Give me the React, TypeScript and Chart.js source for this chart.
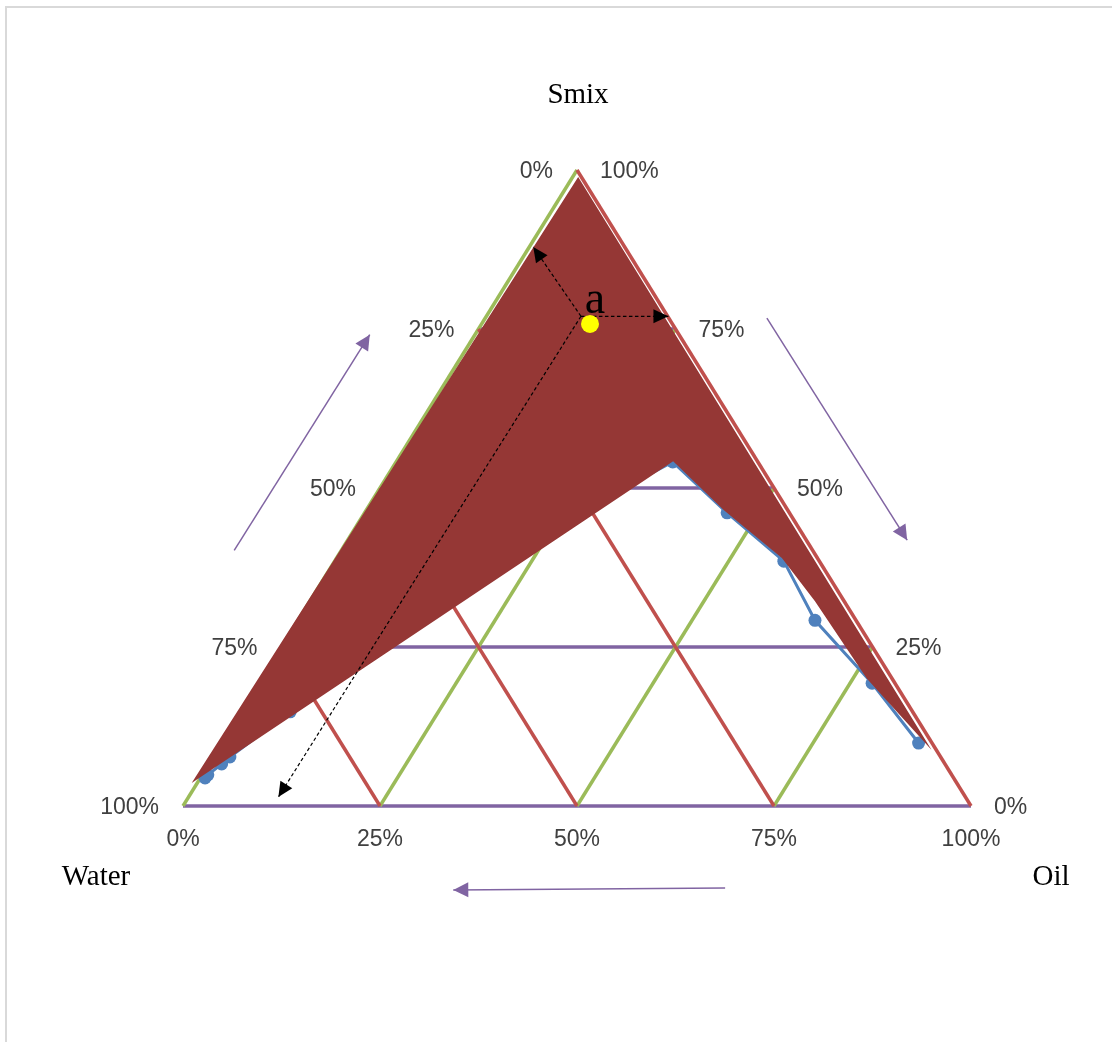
import React, { useEffect, useRef } from "react";
import { Chart, registerables } from "chart.js";

Chart.register(...registerables);

// ---------- data ----------
const TICKS = [0, 25, 50, 75, 100];
const TICK_LABELS = ["0%", "25%", "50%", "75%", "100%"];
const GRID_LEVELS = [0, 25, 50, 75];
const AXIS_NAMES = ["Smix", "Water", "Oil"];

// phase boundary (blue points), % Oil and % Smix
const BOUNDARY_OIL = [0.6, 0.7, 1.6, 2.1, 6.2, 14.8, 25.5, 35.1, 46.0, 57.0, 65.6, 77.8, 88.4];
const BOUNDARY_SMIX = [4.4, 4.9, 6.6, 7.7, 14.8, 30.5, 44.7, 54.1, 46.1, 38.5, 29.2, 19.3, 9.9];

// shaded region: upper edge (Water tip -> Smix apex -> Oil tip) and lower edge
const REGION_UPPER_OIL = [-0.7, 0.7, 90.6];
const REGION_UPPER_SMIX = [3.6, 98.9, 8.8];
const REGION_LOWER_OIL = [-0.7, 35.1, 45.4, 56.5, 64.1, 76.8, 90.6];
const REGION_LOWER_SMIX = [3.6, 54.2, 46.5, 39.0, 32.2, 20.0, 8.8];

// formulation point "a"
const POINT_A_OIL = [13.75];
const POINT_A_SMIX = [75.8];
const POINT_A_LABEL = "a";

// reading lines from point a to the three axes
const READ_ORIGIN_OIL = 12.0;
const READ_ORIGIN_SMIX = 77.0;
const READ_END_OIL = [0.5, 23.1, 11.4];
const READ_END_SMIX = [87.9, 77.0, 1.4];

// direction arrows (plot units: fraction of base width / height)
const DIR_X1 = [0.065, 0.741, 0.688];
const DIR_Y1 = [0.402, 0.767, -0.129];
const DIR_X2 = [0.237, 0.919, 0.343];
const DIR_Y2 = [0.741, 0.418, -0.132];

// ---------- helpers ----------
const tern = (oil: number, smix: number) => ({ x: (oil + smix / 2) / 100, y: smix / 100 });

const PURPLE = "#8064A2";
const GREEN = "#9BBB59";
const RED = "#C0504D";
const BLUE = "#4F81BD";
const BROWN = "#953735";

const arrowPlugin = {
  id: "arrowHeads",
  afterDatasetsDraw(chart: any) {
    const ctx = chart.ctx;
    chart.data.datasets.forEach((ds: any, i: number) => {
      if (!ds.arrowHead) return;
      const meta = chart.getDatasetMeta(i);
      const pts = meta.data;
      if (pts.length < 2) return;
      const a = pts[pts.length - 2];
      const b = pts[pts.length - 1];
      const ang = Math.atan2(b.y - a.y, b.x - a.x);
      const { len, half, color } = ds.arrowHead;
      const bx = b.x - len * Math.cos(ang);
      const by = b.y - len * Math.sin(ang);
      ctx.save();
      ctx.fillStyle = color;
      ctx.beginPath();
      ctx.moveTo(b.x, b.y);
      ctx.lineTo(bx + half * Math.sin(ang), by - half * Math.cos(ang));
      ctx.lineTo(bx - half * Math.sin(ang), by + half * Math.cos(ang));
      ctx.closePath();
      ctx.fill();
      ctx.restore();
    });
  },
};

const textPlugin = {
  id: "ternaryText",
  afterDraw(chart: any) {
    const ctx = chart.ctx;
    const xs = chart.scales.x;
    const ys = chart.scales.y;
    const px = (p: { x: number; y: number }) => ({ x: xs.getPixelForValue(p.x), y: ys.getPixelForValue(p.y) });
    ctx.save();
    ctx.font = '23px "Liberation Sans", Arial, sans-serif';
    ctx.fillStyle = "#404040";
    ctx.textBaseline = "middle";
    TICKS.forEach((t, i) => {
      const lab = TICK_LABELS[i];
      const b = px(tern(t, 0));
      ctx.textAlign = "center";
      ctx.fillText(lab, b.x, b.y + 34);
      const l = px(tern(0, 100 - t));
      ctx.textAlign = "right";
      ctx.fillText(lab, l.x - 24, l.y + 2);
      const r = px(tern(100 - t, t));
      ctx.textAlign = "left";
      ctx.fillText(lab, r.x + 23, r.y + 2);
    });
    ctx.font = '29px "Liberation Serif", "Times New Roman", serif';
    ctx.fillStyle = "#000";
    ctx.textAlign = "center";
    const top = px(tern(0, 100));
    const left = px(tern(0, 0));
    const right = px(tern(100, 0));
    ctx.fillText(AXIS_NAMES[0], top.x + 1, top.y - 75);
    ctx.fillText(AXIS_NAMES[1], left.x - 87, left.y + 71);
    ctx.fillText(AXIS_NAMES[2], right.x + 80, right.y + 71);
    const pa = px(tern(POINT_A_OIL[0], POINT_A_SMIX[0]));
    ctx.font = '46px "Liberation Serif", "Times New Roman", serif';
    ctx.textBaseline = "alphabetic";
    ctx.fillText(POINT_A_LABEL, pa.x + 5, pa.y - 11);
    ctx.restore();
  },
};

export default function App() {
  const ref = useRef<HTMLCanvasElement | null>(null);

  useEffect(() => {
    if (!ref.current) return;
    const datasets: any[] = [];

    // point a
    datasets.push({
      data: POINT_A_OIL.map((o, i) => tern(o, POINT_A_SMIX[i])),
      showLine: false,
      pointRadius: 9,
      pointBackgroundColor: "#FFFF00",
      pointBorderWidth: 0,
      order: 0,
      clip: false,
    });

    // reading lines
    READ_END_OIL.forEach((o, i) => {
      datasets.push({
        data: [tern(READ_ORIGIN_OIL, READ_ORIGIN_SMIX), tern(o, READ_END_SMIX[i])],
        showLine: true,
        borderColor: "#000",
        borderWidth: 1.2,
        borderDash: [3.5, 2.5],
        pointRadius: 0,
        order: 1,
        clip: false,
        arrowHead: { len: 15, half: 7, color: "#000" },
      });
    });

    // direction arrows
    DIR_X1.forEach((x1, i) => {
      datasets.push({
        data: [{ x: x1, y: DIR_Y1[i] }, { x: DIR_X2[i], y: DIR_Y2[i] }],
        showLine: true,
        borderColor: PURPLE,
        borderWidth: 1.5,
        pointRadius: 0,
        order: 1,
        clip: false,
        arrowHead: { len: 15, half: 7.5, color: PURPLE },
      });
    });

    // shaded region (fill between upper and lower edges)
    datasets.push({
      data: REGION_UPPER_OIL.map((o, i) => tern(o, REGION_UPPER_SMIX[i])),
      showLine: true,
      borderWidth: 0,
      borderColor: "rgba(0,0,0,0)",
      backgroundColor: BROWN,
      fill: "+1",
      pointRadius: 0,
      order: 2,
      clip: false,
    });
    datasets.push({
      data: REGION_LOWER_OIL.map((o, i) => tern(o, REGION_LOWER_SMIX[i])),
      showLine: true,
      borderWidth: 0,
      borderColor: "rgba(0,0,0,0)",
      backgroundColor: BROWN,
      fill: false,
      pointRadius: 0,
      order: 2.5,
      clip: false,
    });

    // phase boundary
    datasets.push({
      data: BOUNDARY_OIL.map((o, i) => tern(o, BOUNDARY_SMIX[i])),
      showLine: true,
      borderColor: BLUE,
      borderWidth: 3,
      pointRadius: 6.5,
      pointBackgroundColor: BLUE,
      pointBorderWidth: 0,
      order: 3,
      clip: false,
    });

    // grid: red (constant water), green (constant oil), purple (constant smix)
    GRID_LEVELS.forEach((L) => {
      datasets.push({
        data: [tern(100 - L, 0), tern(0, 100 - L)],
        showLine: true, borderColor: RED, borderWidth: 3.5, pointRadius: 0, order: 4, clip: false,
      });
      datasets.push({
        data: [tern(L, 0), tern(L, 100 - L)],
        showLine: true, borderColor: GREEN, borderWidth: 3.5, pointRadius: 0, order: 5, clip: false,
      });
      datasets.push({
        data: [tern(0, L), tern(100 - L, L)],
        showLine: true, borderColor: PURPLE, borderWidth: 3.5, pointRadius: 0, order: 6, clip: false,
      });
    });

    const chart = new Chart(ref.current, {
      type: "scatter",
      data: { datasets },
      options: {
        responsive: false,
        animation: false,
        devicePixelRatio: 1,
        events: [],
        layout: { padding: { left: 183, right: 141, top: 170, bottom: 236 } },
        plugins: { legend: { display: false }, tooltip: { enabled: false } },
        scales: {
          x: { type: "linear", min: 0, max: 1, display: false },
          y: { type: "linear", min: 0, max: 1, display: false },
        },
      } as any,
      plugins: [arrowPlugin, textPlugin],
    });
    return () => chart.destroy();
  }, []);

  return (
    <div style={{ position: "fixed", left: 0, top: 0, width: 1112, height: 1042, overflow: "hidden", background: "#fff" }}>
      <div
        style={{
          position: "absolute", left: 5, top: 6, width: 1300, height: 1300,
          borderLeft: "2px solid #d9d9d9", borderTop: "2px solid #d9d9d9",
        }}
      />
      <canvas ref={ref} width={1112} height={1042} style={{ position: "absolute", left: 0, top: 0 }} />
    </div>
  );
}
